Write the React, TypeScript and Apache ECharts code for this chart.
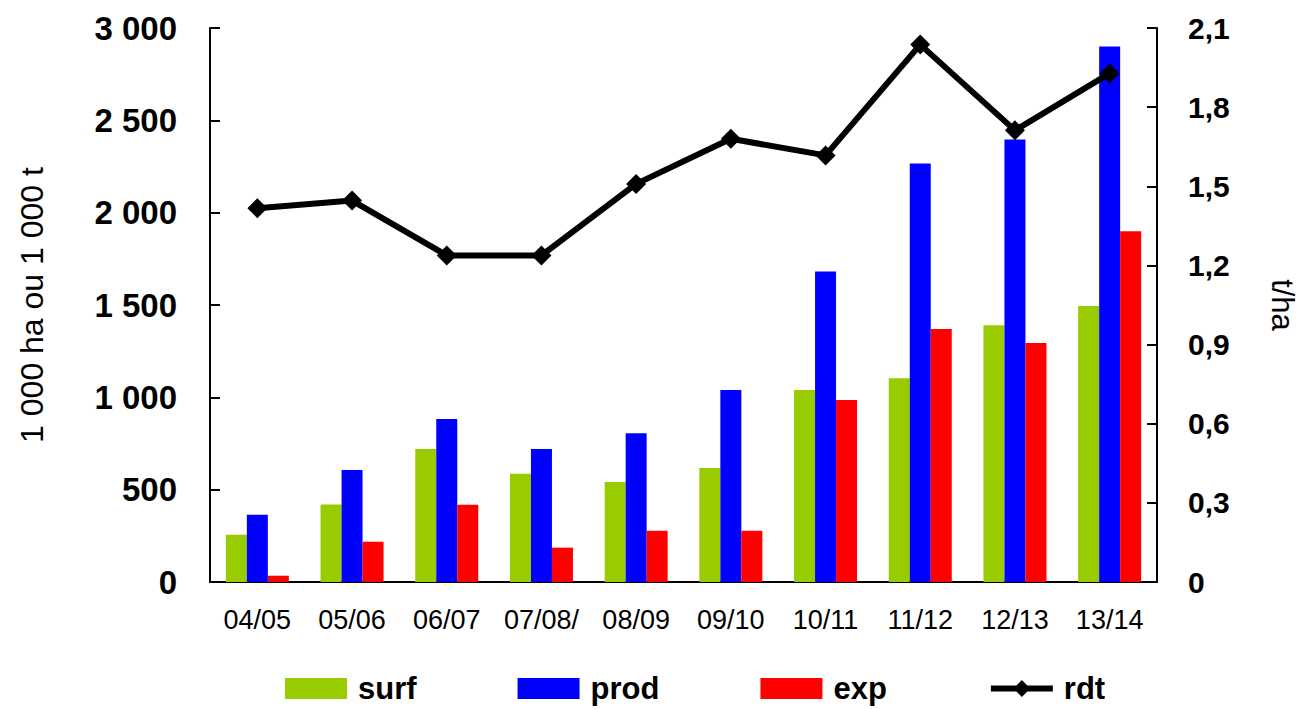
import React, { useEffect, useRef } from "react";
import * as echarts from "echarts";

const categories = ["04/05", "05/06", "06/07", "07/08/", "08/09", "09/10", "10/11", "11/12", "12/13", "13/14"];
const surf = [256, 420, 720, 586, 542, 618, 1040, 1104, 1390, 1494];
const prod = [364, 606, 882, 720, 806, 1040, 1682, 2266, 2396, 2900];
const exp = [34, 218, 418, 186, 278, 278, 986, 1370, 1294, 1900];
const rdt = [1.417, 1.446, 1.238, 1.238, 1.509, 1.68, 1.617, 2.037, 1.712, 1.928];

const FONT = "'Liberation Sans', Arial, sans-serif";

export default function App() {
  const ref = useRef<HTMLDivElement>(null);
  useEffect(() => {
    if (!ref.current) return;
    const chart = echarts.init(ref.current, undefined, { renderer: "svg" });
    const barCommon = { type: "bar", barWidth: 21, barGap: "0%", barCategoryGap: "34%" };
    chart.setOption({
      animation: false,
      textStyle: { fontFamily: FONT },
      grid: { left: 201, right: 141, top: 20, bottom: 127, containLabel: false },
      legend: {
        top: 660,
        left: 272,
        itemWidth: 62,
        itemHeight: 21,
        itemGap: 101,
        textStyle: { fontFamily: FONT, fontSize: 31, fontWeight: "bold", color: "#000", padding: [0, 0, 0, 6] },
        data: [
          { name: "surf", icon: "rect" },
          { name: "prod", icon: "rect" },
          { name: "exp", icon: "rect" },
          { name: "rdt", lineStyle: { width: 6, color: "#000" } },
        ],
      },
      xAxis: {
        type: "category",
        data: categories,
        boundaryGap: true,
        axisLine: { lineStyle: { color: "#000", width: 2 } },
        axisTick: { show: false },
        axisLabel: { color: "#000", fontSize: 27, fontFamily: FONT, margin: 24, interval: 0 },
      },
      yAxis: [
        {
          type: "value",
          min: 0,
          max: 3000,
          interval: 500,
          name: "1 000 ha ou 1 000 t",
          nameLocation: "middle",
          nameGap: 162,
          nameRotate: 90,
          nameTextStyle: { color: "#000", fontSize: 32, fontFamily: FONT },
          axisLine: { show: true, lineStyle: { color: "#000", width: 2 } },
          axisTick: { show: true, inside: true, length: 10, lineStyle: { color: "#000", width: 2 } },
          splitLine: { show: false },
          axisLabel: {
            color: "#000",
            fontSize: 33,
            fontWeight: "bold",
            fontFamily: FONT,
            margin: 33,
            formatter: (v: number) => String(v).replace(/\B(?=(\d{3})+(?!\d))/g, " "),
          },
        },
        {
          type: "value",
          min: 0,
          max: 2.1,
          interval: 0.3,
          name: "t/ha",
          nameLocation: "middle",
          nameGap: 110,
          nameRotate: -90,
          nameTextStyle: { color: "#000", fontSize: 31, fontFamily: FONT },
          axisLine: { show: true, lineStyle: { color: "#000", width: 2 } },
          axisTick: { show: true, inside: true, length: 10, lineStyle: { color: "#000", width: 2 } },
          splitLine: { show: false },
          axisLabel: {
            color: "#000",
            fontSize: 30,
            fontWeight: "bold",
            fontFamily: FONT,
            margin: 31,
            formatter: (v: number) => (v === 0 ? "0" : v.toFixed(1).replace(".", ",")),
          },
        },
      ],
      series: [
        { ...barCommon, name: "surf", data: surf, itemStyle: { color: "#99cc00" } },
        { ...barCommon, name: "prod", data: prod, itemStyle: { color: "#0000ff" } },
        { ...barCommon, name: "exp", data: exp, itemStyle: { color: "#ff0000" } },
        {
          type: "line",
          name: "rdt",
          yAxisIndex: 1,
          data: rdt,
          symbol: "diamond",
          symbolSize: 20,
          lineStyle: { color: "#000", width: 6 },
          itemStyle: { color: "#000" },
        },
      ],
    });
    return () => chart.dispose();
  }, []);
  return <div ref={ref} style={{ width: 1298, height: 701 }} />;
}
